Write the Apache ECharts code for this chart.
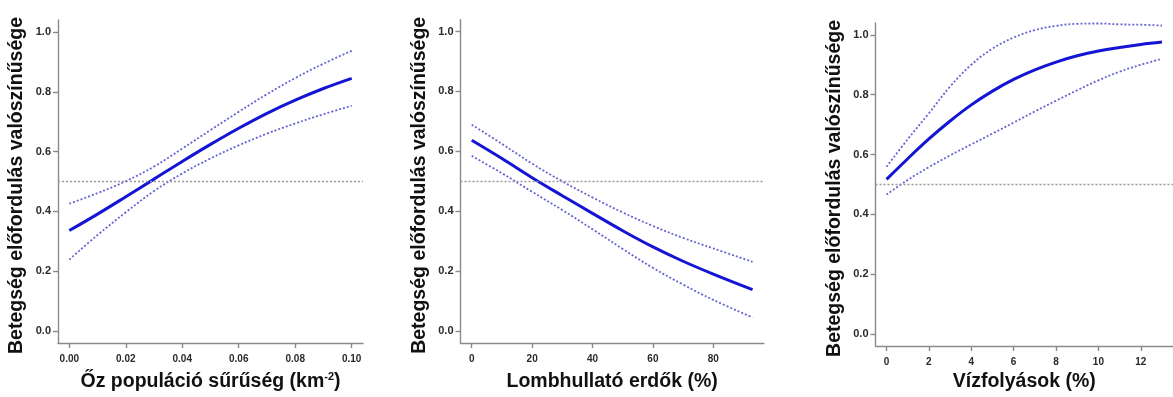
<!DOCTYPE html>
<html>
<head>
<meta charset="utf-8">
<script src="https://cdn.jsdelivr.net/npm/echarts@6/dist/echarts.min.js"></script>
<style>
    html, body {margin: 0; padding: 0; background: #fff;}
    #chart {width: 1173px; height: 397px;}
</style>
</head>
<body>
<div id="chart"></div>
<script>
// y axis ticks (same on all three panels)
var probTicks = [0, 0.2, 0.4, 0.6, 0.8, 1.0];

// panel 1 - roe deer density
var densityX = [0, 0.01, 0.02, 0.03, 0.04, 0.05, 0.06, 0.07, 0.08, 0.09, 0.10];
var densityFit = [0.336, 0.391, 0.449, 0.508, 0.567, 0.624, 0.678, 0.728, 0.772, 0.811, 0.845];
var densityUpper = [0.426, 0.461, 0.501, 0.550, 0.610, 0.672, 0.733, 0.792, 0.846, 0.894, 0.937];
var densityLower = [0.239, 0.321, 0.397, 0.468, 0.527, 0.577, 0.621, 0.660, 0.694, 0.725, 0.753];
var densityTicks = [0, 0.02, 0.04, 0.06, 0.08, 0.10];

// panel 2 - deciduous forest
var forestX = [0, 10, 20, 30, 40, 50, 60, 70, 80, 93];
var forestFit = [0.637, 0.576, 0.512, 0.452, 0.393, 0.335, 0.281, 0.233, 0.190, 0.138];
var forestUpper = [0.689, 0.625, 0.559, 0.500, 0.446, 0.396, 0.351, 0.311, 0.276, 0.231];
var forestLower = [0.585, 0.527, 0.465, 0.404, 0.340, 0.274, 0.211, 0.155, 0.104, 0.045];
var forestTicks = [0, 20, 40, 60, 80];

// panel 3 - watercourses
var waterX = [0, 1, 2, 3, 4, 5, 6, 7, 8, 9, 10, 11, 12, 13];
var waterFit = [0.517, 0.586, 0.652, 0.712, 0.766, 0.812, 0.851, 0.883, 0.909, 0.930, 0.946, 0.958, 0.968, 0.976];
var waterUpper = [0.559, 0.651, 0.738, 0.827, 0.900, 0.954, 0.991, 1.016, 1.030, 1.037, 1.038, 1.035, 1.034, 1.031];
var waterLower = [0.466, 0.515, 0.558, 0.597, 0.634, 0.670, 0.707, 0.744, 0.780, 0.815, 0.848, 0.877, 0.900, 0.920];
var waterTicks = [0, 2, 4, 6, 8, 10, 12];

var yName = 'Betegség előfordulás valószínűsége';
var font = 'Liberation Sans, Arial, Helvetica, sans-serif';

function pairs(xs, ys) {
    var out = [];
    for (var i = 0; i < xs.length; i++) {
        out.push([xs[i], ys[i]]);
    }
    return out;
}

var grids = [
    {left: 58, top: 20, width: 305, height: 327},
    {left: 460.5, top: 19.6, width: 303.3, height: 326.8},
    {left: 875.5, top: 22.9, width: 303.3, height: 326.5}
];

var xCfg = [
    {min: -0.004, max: 0.104, ticks: densityTicks, digits: 2,
     name: '{n|Őz populáció sűrűség (km}{s|-2}{n|)}', gap: 28},
    {min: -3.72, max: 96.72, ticks: forestTicks, digits: 0,
     name: '{n|Lombhullató erdők (%)}', gap: 28},
    {min: -0.52, max: 13.52, ticks: waterTicks, digits: 0,
     name: '{n|Vízfolyások (%)}', gap: 25}
];

var panels = [
    [densityX, densityFit, densityUpper, densityLower],
    [forestX, forestFit, forestUpper, forestLower],
    [waterX, waterFit, waterUpper, waterLower]
];

var axisLineStyle = {color: '#8a8a8a', width: 1.4};

var xAxes = [], yAxes = [], series = [];
for (var i = 0; i < 3; i++) {
    var c = xCfg[i];
    xAxes.push({
        type: 'value', gridIndex: i, min: c.min, max: c.max,
        name: c.name, nameLocation: 'middle', nameGap: c.gap,
        nameTextStyle: {
            rich: {
                n: {fontFamily: font, fontWeight: 'bold', fontSize: 19.5, color: '#111', lineHeight: 22},
                s: {fontFamily: font, fontWeight: 'bold', fontSize: 11, color: '#111', lineHeight: 22, verticalAlign: 'top', padding: [0, 0, 6, 0]}
            }
        },
        splitLine: {show: false},
        axisLine: {onZero: false, lineStyle: axisLineStyle},
        axisTick: {length: 5, lineStyle: axisLineStyle, customValues: c.ticks},
        axisLabel: {
            customValues: c.ticks, margin: 11,
            fontFamily: font, fontWeight: 'bold', fontSize: 10, color: '#2a2a2a',
            formatter: (function (d) { return function (v) { return v.toFixed(d); }; })(c.digits)
        }
    });
    yAxes.push({
        type: 'value', gridIndex: i, min: -0.04, max: 1.04,
        name: yName, nameLocation: 'middle', nameGap: 31,
        nameTextStyle: {fontFamily: font, fontWeight: 'bold', fontSize: 19.5, color: '#111', padding: [0, 8, 0, 0]},
        splitLine: {show: false},
        axisLine: {onZero: false, lineStyle: axisLineStyle},
        axisTick: {length: 5, lineStyle: axisLineStyle, customValues: probTicks},
        axisLabel: {
            customValues: probTicks, margin: 7,
            fontFamily: font, fontWeight: 'bold', fontSize: 11, color: '#2a2a2a',
            formatter: function (v) { return v.toFixed(1); }
        }
    });

    var p = panels[i];
    // fitted curve + 0.5 reference line
    series.push({
        type: 'line', xAxisIndex: i, yAxisIndex: i, z: 3,
        data: pairs(p[0], p[1]), showSymbol: false, smooth: 0.4,
        lineStyle: {color: '#1414d4', width: 3},
        markLine: {
            silent: true, symbol: 'none', label: {show: false},
            lineStyle: {color: '#9a9a9a', width: 1.3, type: [2, 2]},
            data: [{yAxis: 0.5}]
        }
    });
    // confidence band, upper and lower
    series.push({
        type: 'line', xAxisIndex: i, yAxisIndex: i, z: 2,
        data: pairs(p[0], p[2]), showSymbol: false, smooth: 0.4,
        lineStyle: {color: '#6464d2', width: 1.8, type: [2, 2]}
    });
    series.push({
        type: 'line', xAxisIndex: i, yAxisIndex: i, z: 2,
        data: pairs(p[0], p[3]), showSymbol: false, smooth: 0.4,
        lineStyle: {color: '#6464d2', width: 1.8, type: [2, 2]}
    });
}

var mychart = echarts.init(document.getElementById('chart'), null, {renderer: 'canvas'});
var option = {
    backgroundColor: '#fff',
    animation: false,
    grid: grids,
    xAxis: xAxes,
    yAxis: yAxes,
    series: series
};
mychart.setOption(option);
</script>
</body>
</html>
